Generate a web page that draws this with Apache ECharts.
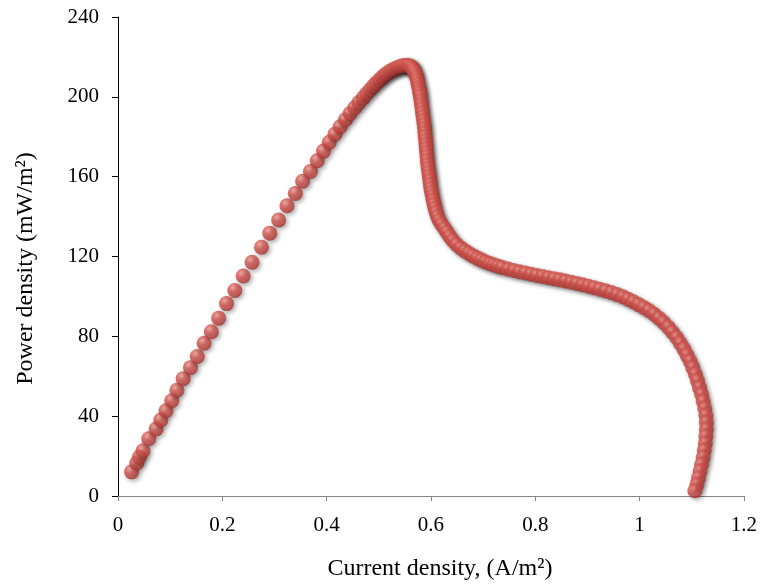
<!DOCTYPE html>
<html>
<head>
<meta charset="utf-8">
<script src="https://cdn.jsdelivr.net/npm/echarts@6/dist/echarts.min.js"></script>
<style>
  html, body { margin: 0; padding: 0; background: #ffffff; }
  #chart { width: 760px; height: 586px; }
</style>
</head>
<body>
<div id="chart"></div>
<script>
// Ohmic (near-linear) rise of power density with current density
const riseCurrent = [0.026,0.036,0.041,0.048,0.059,0.073,0.082,0.092,0.103,0.113,0.125,0.139,0.152,0.165,0.179,0.193,0.208,0.224,0.240,0.257,0.275,0.291,0.308,0.324,0.340,0.354,0.369];
const risePower   = [12.1,16.5,19.5,22.7,28.7,33.6,38.1,42.7,47.7,53.0,58.8,64.3,69.9,76.5,82.3,89.1,96.4,103.0,110.2,117.1,124.6,131.7,138.3,145.4,151.6,157.7,162.6];

// Approach to the power maximum
const peakCurrent = [0.382,0.394,0.405,0.416,0.426,0.436,0.445,0.454,0.462,0.470,0.477,0.484,0.490,0.496,0.502,0.507,0.512,0.517,0.522,0.527,0.532,0.536,0.540,0.544,0.548,0.552,0.556,0.559,0.562,0.565,0.567,0.569,0.571,0.573,0.5745,0.5755];
const peakPower   = [168.0,172.8,177.2,181.3,185.0,188.5,191.6,194.5,197.1,199.5,201.7,203.7,205.5,207.1,208.6,209.9,211.0,212.0,212.9,213.6,214.2,214.7,215.1,215.4,215.6,215.7,215.7,215.5,215.1,214.4,213.5,212.4,211.1,209.6,208.0,206.3];

// Steep drop after the maximum
const dropCurrent = [0.577,0.578,0.579,0.580,0.581,0.582,0.583,0.584,0.585,0.586,0.587,0.588,0.5885,0.589,0.590,0.5905,0.591,0.592,0.5925,0.593,0.594,0.595,0.596,0.597,0.598,0.599,0.600,0.6015,0.603,0.6045,0.606,0.608,0.610,0.6125,0.616,0.6205,0.626,0.631,0.636,0.642,0.649,0.657,0.665,0.673,0.681,0.689,0.697,0.705,0.713,0.721,0.729,0.737];
const dropPower   = [204.5,203,201.5,200,198,196,194,192,190,188,186,184,182,180,178,176,174,172,170,168,166,164,162,160,158,156,154,152,150,148,146,144,142,140,138,136,134,132,130,128,126,124.3,122.8,121.5,120.3,119.2,118.2,117.3,116.5,115.8,115.1,114.5];

// Plateau and mass-transport limited tail
const tailCurrent = [0.748,0.759,0.770,0.781,0.792,0.803,0.814,0.825,0.836,0.847,0.858,0.869,0.880,0.891,0.902,0.913,0.924,0.935,0.946,0.957,0.968,0.978,0.988,0.998,1.008,1.018,1.028,1.037,1.046,1.055,1.063,1.071,1.078,1.085,1.091,1.097,1.102,1.107,1.111,1.115,1.119,1.122,1.125,1.127,1.128,1.128,1.127,1.126,1.124,1.122,1.119,1.116,1.113,1.110,1.106];
const tailPower   = [113.7,113.0,112.3,111.7,111.1,110.5,110.0,109.4,108.9,108.3,107.7,107.1,106.5,105.8,105.1,104.4,103.6,102.8,101.9,100.9,99.8,98.6,97.3,95.9,94.5,92.9,91.1,89.1,87.0,84.6,82.1,79.4,76.6,73.6,70.6,67.5,64.3,61.0,57.7,54.3,50.9,47.4,43.9,40.4,36.9,33.4,29.9,26.4,22.9,19.4,15.9,12.5,9.1,5.8,2.6];

const xTicks = { min: 0, max: 1.2, step: 0.2 };
const yTicks = { min: 0, max: 240, step: 40 };

const currentDensity = [].concat(riseCurrent, peakCurrent, dropCurrent, tailCurrent);
const powerDensity   = [].concat(risePower, peakPower, dropPower, tailPower);
const points = currentDensity.map((c, i) => [c, powerDensity[i]]);

const serif = '"Liberation Serif", "Times New Roman", serif';

// Shaded ball marker
const sphere = {
  type: 'radial', x: 0.38, y: 0.32, r: 0.75,
  colorStops: [
    { offset: 0, color: '#f2a098' },
    { offset: 0.35, color: '#d4564f' },
    { offset: 0.8, color: '#b73f3b' },
    { offset: 1, color: '#8a2926' }
  ]
};

const chart = echarts.init(document.getElementById('chart'), null, { renderer: 'canvas' });
chart.setOption({
  animation: false,
  backgroundColor: '#ffffff',
  grid: { left: 118, right: 14, top: 17, bottom: 86 },
  xAxis: {
    type: 'value',
    min: xTicks.min, max: xTicks.max, interval: xTicks.step,
    name: 'Current density, (A/m²)',
    nameLocation: 'middle',
    nameGap: 61,
    nameTextStyle: { fontFamily: serif, fontSize: 24, color: '#000', padding: [0, 0, 0, 18] },
    axisLine: { show: true, onZero: false, lineStyle: { color: '#868686', width: 1 } },
    axisTick: { show: true, length: 5, lineStyle: { color: '#868686' } },
    axisLabel: {
      fontFamily: serif, fontSize: 21, color: '#000', margin: 19,
      formatter: v => String(Math.round(v * 10) / 10)
    },
    splitLine: { show: false }
  },
  yAxis: {
    type: 'value',
    min: yTicks.min, max: yTicks.max, interval: yTicks.step,
    name: 'Power density (mW/m²)',
    nameLocation: 'middle',
    nameGap: 80,
    nameTextStyle: { fontFamily: serif, fontSize: 24, color: '#000', padding: [0, 24, 0, 0] },
    axisLine: { show: true, lineStyle: { color: '#000', width: 1 } },
    axisTick: { show: true, length: 6, lineStyle: { color: '#000' } },
    axisLabel: { fontFamily: serif, fontSize: 21, color: '#000', margin: 19 },
    splitLine: { show: false }
  },
  series: [{
    type: 'scatter',
    data: points,
    symbol: 'circle',
    symbolSize: 15,
    itemStyle: {
      color: sphere,
      shadowColor: 'rgba(0,0,0,0.4)',
      shadowBlur: 4,
      shadowOffsetX: 2,
      shadowOffsetY: 2
    }
  }]
});
</script>
</body>
</html>
